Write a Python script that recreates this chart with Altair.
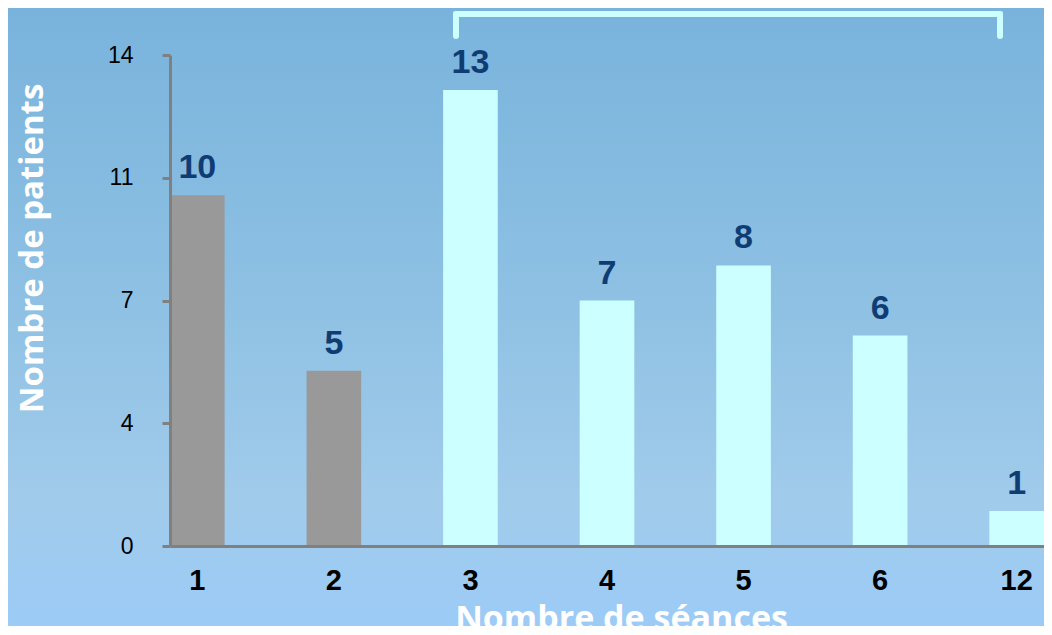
import altair as alt
import pandas as pd

seances = ["1", "2", "3", "4", "5", "6", "12"]
patients = [10, 5, 13, 7, 8, 6, 1]
groupe = ["gris", "gris", "cyan", "cyan", "cyan", "cyan", "cyan"]
y_ticks = [0, 3.5, 7, 10.5, 14]

df = pd.DataFrame({"seances": seances, "patients": patients, "groupe": groupe})

W, H = 874, 491
PL, PT, PR, PB = 162, 47, 0, 80

xs = alt.Scale(domain=seances, paddingInner=0.6, paddingOuter=0)
ys = alt.Scale(domain=[0, 14], nice=False)

bg = alt.Chart(alt.Data(values=[{}])).mark_rect(
    color=alt.LinearGradient(
        gradient="linear", x1=0, x2=0, y1=0, y2=1,
        stops=[
            alt.GradientStop(offset=0, color="#79b3dc"),
            alt.GradientStop(offset=0.45, color="#8dc0e3"),
            alt.GradientStop(offset=0.8, color="#a1cbeb"),
            alt.GradientStop(offset=1, color="#9ccbf7"),
        ],
    )
).encode(
    x=alt.value(-PL), x2=alt.value(W + PR), y=alt.value(-PT), y2=alt.value(H + PB)
)

base = alt.Chart(df)

bars = base.mark_bar().encode(
    x=alt.X("seances:N", sort=seances, scale=xs,
            axis=alt.Axis(title="Nombre de séances", labelAngle=0, ticks=False,
                          domainColor="#808080", domainWidth=3,
                          labelFont="Liberation Sans", labelFontSize=29,
                          labelFontWeight="bold", labelColor="#000000",
                          labelPadding=20, zindex=1,
                          titleFont="Open Sans", titleFontSize=34, titleFontWeight="bold",
                          titleColor="#ffffff", titleBaseline="top", titleAlign="center",
                          titleX=451, titleY=56)),
    y=alt.Y("patients:Q", scale=ys,
            axis=alt.Axis(title="Nombre de patients", values=y_ticks, format=".0f",
                          grid=False,
                          domainColor="#808080", domainWidth=3, tickColor="#808080",
                          tickWidth=3, tickSize=8, labelFont="Liberation Sans",
                          labelFontSize=23, labelColor="#000000", labelPadding=29,
                          zindex=1, titleFont="Open Sans", titleFontSize=33,
                          titleFontWeight="bold", titleColor="#ffffff", titleAngle=-90,
                          titleAlign="center", titleBaseline="middle",
                          titleX=-138, titleY=193)),
    color=alt.Color("groupe:N", scale=alt.Scale(domain=["gris", "cyan"],
                                                range=["#999999", "#ccffff"]), legend=None),
)

labels = base.mark_text(
    font="Liberation Sans", fontSize=34, fontWeight="bold", color="#0f3d73",
    baseline="bottom", dy=-10
).encode(
    x=alt.X("seances:N", sort=seances, scale=xs),
    y=alt.Y("patients:Q", scale=ys),
    text="patients:Q",
)

bcol = "#ccffff"
br_top = alt.Chart(alt.Data(values=[{}])).mark_rule(color=bcol, strokeWidth=6, strokeCap="round").encode(
    x=alt.value(286), x2=alt.value(830), y=alt.value(-41))
br_l = alt.Chart(alt.Data(values=[{}])).mark_rule(color=bcol, strokeWidth=6, strokeCap="round").encode(
    x=alt.value(286), y=alt.value(-41), y2=alt.value(-19))
br_r = alt.Chart(alt.Data(values=[{}])).mark_rule(color=bcol, strokeWidth=6, strokeCap="round").encode(
    x=alt.value(830), y=alt.value(-41), y2=alt.value(-19))

chart = alt.layer(bg, bars, labels, br_top, br_l, br_r).properties(
    width=W, height=H,
    padding={"left": PL, "top": PT, "right": PR, "bottom": PB},
    autosize=alt.AutoSizeParams(type="none"),
    background="#9ccbf7",
).configure_view(stroke=None)

chart.save("out.html", embed_options={"renderer": "svg", "actions": False})
